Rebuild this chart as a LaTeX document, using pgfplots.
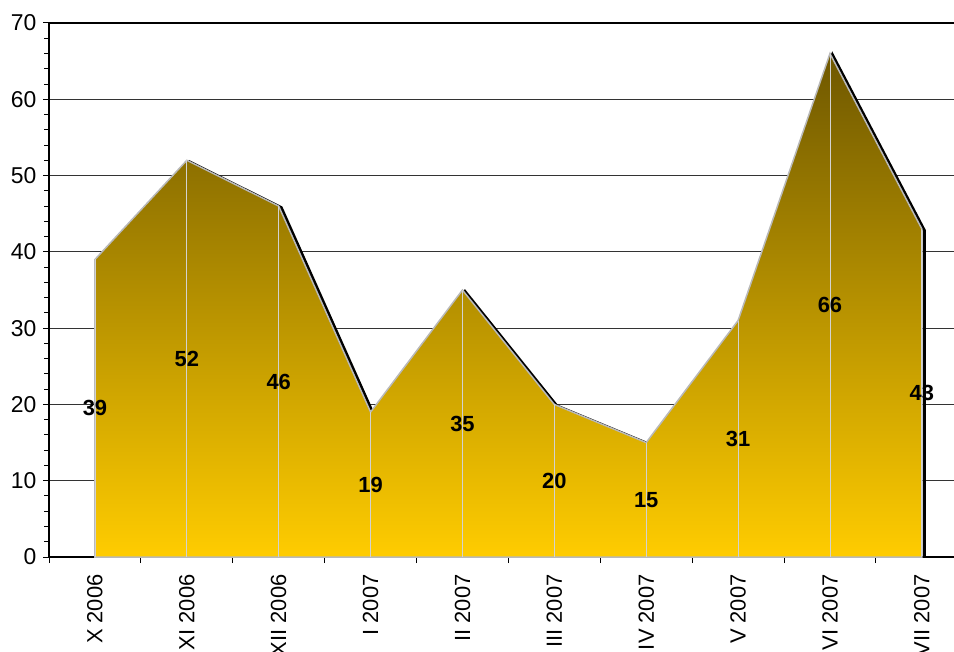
\documentclass[border=0pt]{standalone}
\usepackage{pgfplots}
\usepackage{pgfplotstable}
\pgfplotsset{compat=1.18}
\usepackage{fontspec}
\setmainfont{Liberation Sans}
\definecolor{topc}{HTML}{6E5700}
\definecolor{midc}{HTML}{CDA300}
\definecolor{botc}{HTML}{FFCC00}
\begin{document}
\begin{tikzpicture}
\pgfplotstableread{
x y
0 39
1 52
2 46
3 19
4 35
5 20
6 15
7 31
8 66
9 43
}\data
\begin{axis}[
  scale only axis, width=905bp, height=534bp,
  xmin=-0.5, xmax=9.35, ymin=0, ymax=70,
  axis lines*=left, axis line style={-, line width=2bp},
  /pgf/number format/assume math mode=true,
  ytick={0,10,...,70}, minor y tick num=4,
  xtick={-0.5,0.5,...,8.5}, xticklabels={},
  extra x ticks={0,1,2,3,4,5,6,7,8,9},
  extra x tick labels={X 2006,XI 2006,XII 2006,I 2007,II 2007,III 2007,IV 2007,V 2007,VI 2007,VII 2007},
  extra x tick style={tick style={draw=none}, grid=none,
     tick label style={rotate=90, anchor=east, xshift=-8bp, font=\fontsize{22}{24}\selectfont}},
  tick align=outside, major tick length=6bp, minor tick length=5bp,
  tick style={black, line width=1bp},
  ymajorgrids, grid style={black!80, line width=0.8bp},
  y tick label style={font=\fontsize{23}{26}\selectfont, xshift=-3bp},
  clip=false,
]
\addplot[draw=black, line width=3bp, xshift=2.5bp, yshift=-1.5bp] coordinates {
(0,39) (1,52) (2,46) (3,19) (4,35) (5,20) (6,15) (7,31) (8,66) (9,43) (9,0.2)};
\addplot[draw=gray!55, line width=1.5bp, top color=topc, middle color=midc, bottom color=botc] table[x=x,y=y]{\data} \closedcycle;
\addplot[ycomb, draw=gray!35, line width=0.8bp] table[x=x,y=y]{\data};
\addplot[draw=none, nodes near coords, point meta=explicit,
  nodes near coords style={anchor=center, font=\fontsize{22}{24}\selectfont\bfseries}]
  table[x=x, y expr=\thisrow{y}/2, meta=y]{\data};
\draw[line width=2bp] (rel axis cs:0,1) -- (rel axis cs:1,1);
\end{axis}
\pgfresetboundingbox
\path[use as bounding box] (-49bp,-95bp) rectangle (905bp,557bp);
\end{tikzpicture}
\end{document}
